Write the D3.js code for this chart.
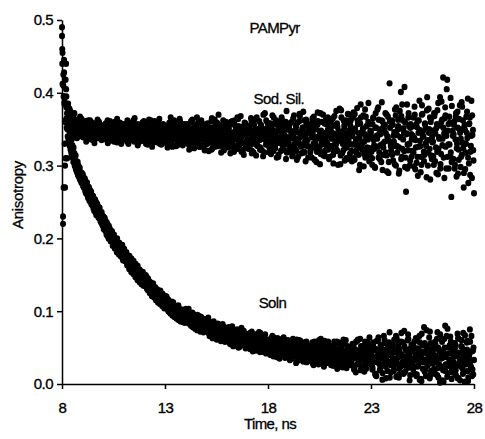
<!DOCTYPE html>
<html>
<head>
<meta charset="utf-8">
<script src="https://cdn.jsdelivr.net/npm/d3@7"></script>
<style>
  html, body { margin: 0; padding: 0; background: #fff; }
  svg text { font-family: "Liberation Sans", Arial, sans-serif; fill: #000; }
</style>
</head>
<body>
<svg id="chart" width="485" height="439"></svg>
<script>
// ---- data: anisotropy in thousandths ----
// channel groups: "...Milli" at 8.000 + 0.05*i ns, "...QMilli" at 8.0125 + 0.05*i ns,
// "...MidMilli" at 8.025 + 0.05*i ns
const timeStart = 8;
const timeStep = 0.05;
const quarterOffset = 0.0125;
const midOffset = 0.025;

const solnMilli = [
  490,230,445,300,440,372,355,332,345,318,328,305,317,298,306,290,300,283,291,276,
  283,271,280,266,273,262,268,255,261,249,256,243,250,237,244,240,228,235,222,229,
  226,215,221,209,216,204,211,199,207,195,202,191,199,186,194,183,190,179,186,175,
  181,172,178,168,175,164,170,160,167,157,163,153,160,150,156,146,152,143,149,140,
  147,137,144,133,141,130,138,127,135,124,132,120,129,117,126,115,123,112,120,109,
  117,106,112,116,105,99,111,104,112,98,103,94,103,108,94,99,90,102,93,98,
  100,89,97,103,86,94,84,97,91,80,93,85,90,78,88,92,76,86,84,75,
  86,73,91,77,70,84,79,67,82,74,69,80,71,78,64,76,82,66,73,77,
  74,61,78,65,59,73,69,56,71,63,75,58,67,72,55,64,70,59,66,52,
  66,54,61,70,49,58,63,52,68,57,47,61,55,65,50,59,44,62,56,51,
  58,45,54,63,41,50,56,47,60,39,52,48,57,43,62,46,51,38,55,49,
  53,40,49,35,58,44,51,38,61,46,33,50,42,56,37,48,54,31,45,52,
  49,36,44,57,30,41,52,38,46,27,55,40,35,48,33,59,42,29,45,37,
  46,31,52,38,27,44,35,58,41,24,49,36,43,30,55,39,28,47,34,50,
  43,29,55,35,22,47,38,60,31,45,19,40,52,33,26,49,37,57,28,42,
  40,25,53,34,14,46,30,61,37,21,49,6,42,28,56,33,18,44,71,26,
  31,52,18,44,27,63,36,9,48,24,40,57,15,33,46,22,68,38,12,29,
  45,20,58,33,11,49,27,66,38,4,53,30,17,44,74,25,41,8,56,35,
  28,51,14,39,62,22,47,2,35,58,19,42,80,26,10,50,31,65,16,44,
  37,15,54,26,69,8,43,30,60,21,47,3,35,57,18,40,75,24,11,46,
  33
];

const solnQMilli = [
  460,425,395,362,380,350,336,352,322,335,311,325,300,314,292,305,285,297,279,290,
  288,270,282,262,277,256,270,251,264,246,258,238,253,232,247,229,240,224,233,218,
  230,212,224,205,219,200,214,196,209,190,203,186,198,181,193,178,192,175,184,170,
  186,169,180,163,174,158,172,154,166,151,160,147,158,143,155,140,150,137,147,135,
  150,134,146,129,142,125,139,121,135,119,131,115,128,112,125,110,122,107,119,104,
  121,104,116,100,113,97,109,94,107,92,104,90,101,88,99,86,97,85,96,84,
  103,88,99,83,96,80,92,78,95,76,89,74,86,93,72,85,90,71,83,78,
  89,71,84,66,80,75,63,86,70,78,61,83,68,75,59,80,67,72,58,76,
  77,60,72,55,68,79,52,65,71,57,74,50,66,61,77,54,62,69,49,64,
  68,50,64,56,72,45,60,53,66,48,62,71,44,57,63,47,59,68,42,54,
  60,42,56,48,66,38,53,59,44,63,50,35,57,47,54,64,40,51,45,60,
  51,33,57,45,62,38,48,29,55,42,60,36,46,53,31,50,44,58,34,47,
  47,32,53,40,26,58,37,45,29,51,42,62,34,48,24,44,55,30,50,39,
  44,26,51,35,58,30,47,21,42,55,33,48,27,61,37,45,22,52,36,43,
  32,48,25,54,38,16,45,61,29,41,52,23,47,35,58,21,44,31,50,39,
  44,20,57,32,48,11,39,64,27,52,35,15,46,60,24,41,54,30,9,47,
  38,55,20,45,66,29,50,13,42,58,26,36,73,17,47,31,62,23,44,54,
  29,52,14,40,61,24,47,6,36,69,21,43,56,11,33,50,28,72,18,39,
  46,21,58,34,12,50,27,68,39,5,44,62,18,37,76,25,53,30,7,42,
  30,56,19,43,8,62,35,24,51,14,40,67,28,47,4,38,58,22,45,13
];

const solnMidMilli = [
  412,270,388,310,365,340,350,327,338,316,322,309,312,295,303,287,296,281,289,277,
  272,283,265,277,260,271,252,266,247,259,241,254,236,249,245,231,242,226,236,220,
  213,228,210,222,203,217,212,198,210,191,205,196,187,200,182,194,189,176,191,172,
  184,170,181,165,163,176,160,172,155,169,152,165,148,162,145,157,153,139,154,137,
  136,149,131,145,128,140,136,123,138,121,133,118,130,125,114,128,110,124,117,106,
  109,120,103,114,99,108,113,96,106,101,92,107,97,104,89,100,95,86,101,91,
  92,101,85,95,90,82,98,87,93,79,89,95,81,87,77,90,84,79,88,73,
  75,88,70,83,76,66,85,72,78,64,80,73,68,81,70,62,79,71,65,74,
  64,76,57,70,62,74,53,67,60,72,56,64,51,68,61,57,73,54,63,58,
  57,69,48,63,55,67,51,59,46,64,53,58,70,45,56,62,49,60,43,55,
  47,59,40,55,50,64,43,53,37,58,49,45,61,41,52,56,36,48,59,44,
  42,56,36,50,61,39,47,55,32,49,44,59,35,51,40,57,46,30,53,41,
  38,52,45,28,56,41,34,50,44,60,31,47,39,54,26,43,49,36,58,33,
  35,49,42,25,54,37,46,29,57,40,33,51,23,44,38,60,31,48,26,42,
  33,51,40,20,46,58,27,43,36,62,24,48,39,17,53,30,45,35,64,28,
  41,22,50,36,12,59,31,45,19,54,38,27,66,35,8,48,29,57,40,16,
  47,26,61,34,10,43,55,21,39,70,30,14,52,37,25,60,42,5,49,32,
  23,48,36,63,13,41,29,57,7,44,34,78,19,52,27,39,64,12,46,31,
  40,18,55,30,71,9,45,24,61,36,3,50,27,66,15,42,33,58,21,48,
  25,49,12,38,63,29,5,52,34,70,17,44,27,59,9,41,31,66,20,50
];

const sodSilMilli = [
  478,220,428,270,405,310,385,368,375,358,366,350,372,345,357,362,340,355,349,364,
  356,343,349,361,340,352,346,358,337,351,344,355,348,339,353,346,360,342,350,345,
  341,354,347,336,350,357,343,349,338,353,346,360,341,348,335,352,344,356,339,347,
  349,338,355,343,351,336,346,358,341,350,333,347,354,342,348,337,352,345,359,340,
  352,336,347,357,331,345,340,354,338,349,361,334,346,342,356,330,348,339,351,344,
  335,350,344,329,357,341,347,336,353,362,339,345,328,351,343,337,356,346,333,349,
  348,333,355,340,327,346,359,337,344,331,352,366,338,343,326,350,341,357,334,347,
  329,346,353,335,342,361,324,349,338,356,331,345,370,336,341,327,352,344,333,358,
  346,325,351,338,360,332,344,319,355,341,336,364,328,347,339,353,322,342,358,334,
  345,323,352,337,360,330,318,349,341,366,327,343,335,356,321,347,339,372,329,351,
  350,328,341,316,356,335,345,324,362,338,312,347,331,359,340,322,352,336,375,329,
  321,349,338,360,315,343,330,355,308,346,337,368,326,341,352,319,334,363,345,311,
  347,318,339,362,325,351,333,305,356,340,322,372,331,344,314,358,336,327,366,342,
  312,351,337,365,320,343,329,358,301,346,334,376,317,340,355,325,362,331,309,348,
  355,320,341,373,308,347,329,362,315,338,384,326,350,299,343,367,318,336,357,312,
  346,310,365,328,297,352,337,380,318,343,305,361,325,349,372,314,339,290,413,331,
  358,316,341,302,369,327,350,289,375,401,312,362,345,298,264,384,321,354,307,343,
  320,366,338,295,357,312,345,389,327,301,371,340,315,352,284,335,378,323,360,309,
  348,301,372,325,357,288,339,394,316,363,421,344,380,296,418,329,367,313,257,358,
  309,361,336,285,374,322,350,298,387,331,270,356,318,345,392,303,366,327,283,349,
  262
];

const sodSilQMilli = [
  440,410,385,360,395,372,350,378,360,345,368,355,339,361,350,343,358,347,353,341,
  351,340,358,345,336,353,349,362,342,347,335,356,344,351,338,359,346,341,354,337,
  344,355,339,350,362,342,334,352,347,358,340,345,354,332,349,343,359,338,352,346,
  355,341,348,333,359,344,352,338,346,362,336,351,343,357,331,349,340,354,337,348,
  338,353,345,329,350,341,362,336,348,332,355,344,339,360,347,333,351,340,357,345,
  345,331,352,340,359,336,348,326,343,355,337,350,333,346,364,339,352,328,344,356,
  353,339,330,348,342,361,335,351,324,345,340,357,331,349,338,362,344,328,353,336,
  342,358,331,347,337,322,352,344,363,335,349,327,340,356,345,333,351,321,346,360,
  350,334,357,326,344,361,338,321,348,341,366,330,352,336,319,349,343,359,328,345,
  335,354,326,346,317,359,340,333,364,328,350,338,322,355,344,313,350,336,362,331,
  354,325,346,337,369,320,343,358,331,348,315,352,339,366,326,345,334,360,318,350,
  331,358,319,347,340,369,324,353,336,312,361,344,329,350,374,318,342,356,327,348,
  352,321,344,365,330,308,356,339,373,326,347,316,360,337,345,320,364,332,350,309,
  327,362,340,315,355,331,375,320,347,336,302,366,343,321,352,337,310,359,333,370,
  362,329,348,310,371,336,322,357,344,301,366,331,351,316,377,339,325,360,306,346,
  340,301,366,323,352,339,377,311,345,328,362,294,355,333,318,370,340,305,361,327,
  315,356,333,377,300,342,363,325,351,309,384,336,320,359,343,296,366,330,352,312,
  354,318,381,335,304,362,326,349,291,370,340,319,357,331,376,300,345,366,314,339,
  333,372,306,351,319,386,337,296,360,328,352,283,369,341,312,357,329,393,305,348,
  343,296,367,324,352,308,383,337,315,362,290,349,330,374,311,357,287,341,369,321
];

const sodSilMidMilli = [
  455,395,330,418,352,380,362,345,370,355,340,365,351,360,338,356,348,367,343,352,
  339,357,345,333,354,362,341,350,336,359,347,331,353,344,363,338,349,356,335,346,
  352,337,358,344,331,349,361,340,346,355,333,350,342,364,337,348,353,330,345,357,
  336,352,344,362,330,347,341,357,335,349,365,339,353,328,346,356,343,334,350,361,
  347,330,356,341,363,335,350,326,344,359,338,352,332,346,364,340,329,355,343,336,
  350,338,325,354,343,366,332,347,340,358,327,344,353,335,361,348,330,341,357,337,
  336,357,344,322,350,338,363,329,347,354,333,342,360,326,349,336,355,345,321,352,
  355,337,320,348,343,365,331,350,326,345,359,334,341,353,318,347,362,339,330,351,
  333,352,341,317,357,345,328,362,337,349,323,354,340,368,331,346,315,351,343,326,
  352,329,344,365,320,339,356,333,314,348,342,361,325,353,337,370,318,345,334,359,
  343,318,358,331,349,366,325,340,311,355,336,347,320,363,330,352,341,309,357,338,
  354,326,343,313,365,337,348,320,359,331,371,340,317,352,328,362,306,345,335,357,
  326,355,311,343,367,331,350,319,361,338,302,348,329,370,336,313,357,341,322,352,
  359,327,345,303,368,336,322,353,341,378,314,347,330,362,307,344,325,371,338,316,
  342,306,366,329,351,318,379,337,294,358,345,322,369,333,311,354,340,386,324,348,
  319,357,335,298,372,341,326,363,309,350,387,330,315,356,344,292,367,334,352,321,
  362,307,346,327,380,318,354,293,339,368,323,351,408,311,344,329,372,300,357,336,
  341,299,370,325,353,286,362,334,312,383,347,306,358,327,394,318,350,281,365,332,
  313,368,344,290,376,323,355,302,388,337,311,365,326,405,348,296,359,318,382,341,
  356,301,372,330,289,364,345,312,381,324,353,295,367,338,276,358,319,389,342,307
];

const xTickValues = [8, 13, 18, 23, 28];
const yTickValues = [0.0, 0.1, 0.2, 0.3, 0.4, 0.5];
const annotations = [
  { text: "PAMPyr",    t: 17.1, r: 0.482 },
  { text: "Sod. Sil.", t: 17.3, r: 0.385 },
  { text: "Soln",      t: 17.55, r: 0.105 }
];

// ---- layout ----
const svg = d3.select("#chart");
const margin = { left: 62, top: 20, right: 11, bottom: 55 };
const W = 485, H = 439;

const x = d3.scaleLinear().domain([8, 28]).range([margin.left, W - margin.right]);
const y = d3.scaleLinear().domain([0, 0.5]).range([H - margin.bottom, margin.top]);

const toPoints = (arr, start) => arr.map((v, i) => ({ t: start + i * timeStep, r: v / 1000 }));
const series = [
  [].concat(
    toPoints(sodSilMilli, timeStart),
    toPoints(sodSilQMilli, timeStart + quarterOffset),
    toPoints(sodSilMidMilli, timeStart + midOffset)),
  [].concat(
    toPoints(solnMilli, timeStart),
    toPoints(solnQMilli, timeStart + quarterOffset),
    toPoints(solnMidMilli, timeStart + midOffset))
];

const g = svg.append("g");
series.forEach(pts => {
  g.selectAll(null).data(pts).enter().append("ellipse")
    .attr("cx", d => x(d.t))
    .attr("cy", d => y(d.r))
    .attr("rx", 3.0)
    .attr("ry", 3.2)
    .attr("fill", "#000");
});

// axes
const yAxis = d3.axisLeft(y).tickValues(yTickValues).tickFormat(d3.format(".1f"))
  .tickSize(5).tickSizeOuter(0).tickPadding(4);
const xAxis = d3.axisBottom(x).tickValues(xTickValues).tickFormat(d3.format("d"))
  .tickSize(5).tickSizeOuter(0).tickPadding(13);

const ya = svg.append("g").attr("transform", `translate(${margin.left},0)`).call(yAxis);
const xa = svg.append("g").attr("transform", `translate(0,${H - margin.bottom})`).call(xAxis);
[ya, xa].forEach(a => {
  a.selectAll("path, line").attr("stroke", "#000").attr("stroke-width", 1.5);
  a.selectAll("text").attr("font-size", 15).attr("fill", "#000")
    .attr("stroke", "#000").attr("stroke-width", 0.35)
    .attr("font-family", "'Liberation Sans', Arial, sans-serif")
    .attr("letter-spacing", -0.5);
});

// axis titles
svg.append("text")
  .attr("x", (margin.left + W - margin.right) / 2 + 2)
  .attr("y", 429)
  .attr("text-anchor", "middle")
  .attr("font-size", 15)
  .attr("letter-spacing", -0.6)
  .attr("stroke", "#000").attr("stroke-width", 0.3)
  .text("Time, ns");

svg.append("text")
  .attr("transform", `translate(23,195) rotate(-90)`)
  .attr("text-anchor", "middle")
  .attr("font-size", 15)
  .attr("letter-spacing", -0.3)
  .attr("stroke", "#000").attr("stroke-width", 0.3)
  .text("Anisotropy");

// annotations
annotations.forEach(a => {
  svg.append("text")
    .attr("x", x(a.t))
    .attr("y", y(a.r))
    .attr("font-size", 15)
    .attr("letter-spacing", -0.6)
    .attr("stroke", "#000").attr("stroke-width", 0.3)
    .text(a.text);
});
</script>
</body>
</html>
